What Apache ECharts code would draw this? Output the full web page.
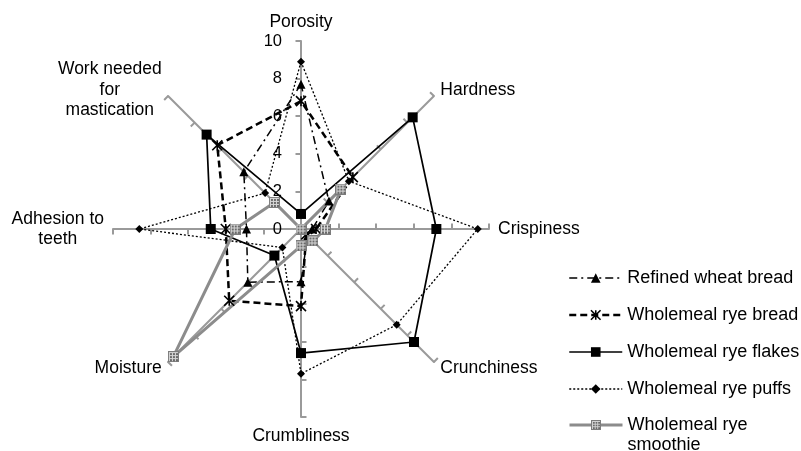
<!DOCTYPE html>
<html>
<head>
<meta charset="utf-8">
<script src="https://cdn.jsdelivr.net/npm/echarts@6/dist/echarts.min.js"></script>
<style>
  html, body { margin: 0; padding: 0; background: #fff; }
  #chart { width: 801px; height: 451px; }
</style>
</head>
<body>
<div id="chart"></div>
<script>
// Sensory attributes, listed clockwise from the top spoke
const attributes = ['Porosity', 'Hardness', 'Crispiness', 'Crunchiness', 'Crumbliness',
  'Moisture', 'Adhesion to\nteeth', 'Work needed\nfor\nmastication'];
const tickLabels = ['0', '2', '4', '6', '8', '10'];
const seriesNames = ['Refined wheat bread', 'Wholemeal rye bread', 'Wholemeal rye flakes',
  'Wholemeal rye puffs', 'Wholemeal rye\nsmoothie'];

// Scores per attribute (same order as attributes)
const refinedWheatBread    = [7.7, 2.1, 0.6, 0.5, 2.8, 4.0, 2.9, 4.3];
const wholemealRyeBread    = [6.8, 3.9, 0.8, 0.4, 4.1, 5.4, 4.0, 6.3];
const wholemealRyeFlakes   = [0.8, 8.4, 7.2, 8.5, 6.6, 2.0, 4.8, 7.1];
const wholemealRyePuffs    = [8.9, 3.6, 9.4, 7.2, 7.7, 1.4, 8.6, 2.7];
const wholemealRyeSmoothie = [0.0, 3.0, 1.3, 0.9, 0.9, 9.6, 3.5, 2.0];
const seriesValues = [refinedWheatBread, wholemealRyeBread, wholemealRyeFlakes,
  wholemealRyePuffs, wholemealRyeSmoothie];

const FONT = '"Liberation Sans", Arial, sans-serif';
const AXIS_GRAY = '#9a9a9a';

// Radar indicators run counter-clockwise, so walk the list in reverse after the first
const order = [0, 7, 6, 5, 4, 3, 2, 1];
const reorder = arr => order.map(i => arr[i]);

function indicators(withLabel) {
  return order.map(i => {
    const ind = { name: attributes[i], min: 0, max: 10 };
    if (withLabel && i === 0) ind.axisLabel = { show: true };
    return ind;
  });
}

// Patterned square marker for the smoothie series
function smoothieMarker() {
  const c = document.createElement('canvas');
  c.width = 11; c.height = 11;
  const g = c.getContext('2d');
  g.fillStyle = '#7c7c7c';
  g.fillRect(0, 0, 11, 11);
  g.fillStyle = '#d8d8d8';
  g.fillRect(1, 1, 9, 9);
  g.fillStyle = '#6a6a6a';
  for (let r = 0; r < 3; r++) {
    for (let k = 0; k < 3; k++) {
      g.fillRect(2 + k * 3, 2 + r * 3, 2, 2);
    }
  }
  return 'image://' + c.toDataURL();
}

const starPath = 'path://M0,0L10,10M10,0L0,10M5,0L5,10';

// Line and marker look of each series
const seriesStyles = [
  { symbol: 'triangle', symbolSize: 9,
    lineStyle: { color: '#000', width: 1.5, type: [8, 4, 2, 4] },
    itemStyle: { color: '#000' } },
  { symbol: starPath, symbolSize: 10,
    lineStyle: { color: '#000', width: 2.5, type: [7, 4] },
    itemStyle: { color: '#000', borderColor: '#000', borderWidth: 1.6 } },
  { symbol: 'rect', symbolSize: 10,
    lineStyle: { color: '#000', width: 1.7, type: 'solid' },
    itemStyle: { color: '#000' } },
  { symbol: 'diamond', symbolSize: 8,
    lineStyle: { color: '#000', width: 1.3, type: [2, 2] },
    itemStyle: { color: '#000' } },
  { symbol: smoothieMarker(), symbolSize: 11,
    lineStyle: { color: '#8c8c8c', width: 3, type: 'solid' },
    itemStyle: { color: '#8c8c8c' } }
];

const baseRadar = {
  center: [301, 229],
  radius: 188,
  startAngle: 90,
  splitNumber: 5,
  shape: 'polygon',
  splitLine: { show: false },
  splitArea: { show: false }
};

// Empty line series carry the legend keys (line + marker icon)
const legendKeySeries = seriesNames.map((n, i) => Object.assign({
  type: 'line', name: n, xAxisIndex: 0, yAxisIndex: 0, data: [], silent: true
}, seriesStyles[i]));

const radarSeries = seriesNames.map((n, i) => Object.assign({
  type: 'radar', radarIndex: 0, name: n,
  data: [{ value: reorder(seriesValues[i]), name: n }]
}, seriesStyles[i]));

function legendItem(i) {
  return {
    name: seriesNames[i],
    lineStyle: { width: seriesStyles[i].lineStyle.width },
    itemStyle: { borderWidth: seriesStyles[i].itemStyle.borderWidth || 0 }
  };
}

const legendCommon = {
  orient: 'vertical',
  left: 563,
  height: 260,
  itemWidth: 53,
  itemHeight: 12,
  itemGap: 17,
  textStyle: { fontSize: 18, lineHeight: 20, color: '#000', fontFamily: FONT }
};

const chart = echarts.init(document.getElementById('chart'), null, { renderer: 'canvas' });

chart.setOption({
  backgroundColor: '#ffffff',
  animation: false,
  textStyle: { fontFamily: FONT },
  grid: { show: false, left: 0, top: 0, width: 1, height: 1 },
  xAxis: { type: 'value', show: false },
  yAxis: { type: 'value', show: false },
  radar: [
    Object.assign({}, baseRadar, {
      indicator: indicators(true),
      nameGap: 9,
      axisName: {
        color: '#000',
        fontSize: 17.5,
        fontFamily: FONT,
        formatter: name => name.split('\n').map(s => '{c|' + s + '}').join('\n'),
        rich: { c: { align: 'center', fontSize: 17.5, lineHeight: 20.5, color: '#000', fontFamily: FONT } }
      },
      axisLine: { show: true, lineStyle: { color: AXIS_GRAY, width: 2 } },
      axisTick: { show: true, length: 5.5, lineStyle: { color: AXIS_GRAY, width: 2 } },
      axisLabel: {
        show: false,
        margin: 19,
        fontSize: 16.5,
        color: '#000',
        fontFamily: FONT,
        formatter: v => tickLabels[Math.round(v / 2)]
      }
    }),
    Object.assign({}, baseRadar, {
      indicator: indicators(false),
      axisName: { show: false },
      axisLine: { show: false },
      axisTick: { show: true, inside: true, length: 5.5, lineStyle: { color: AXIS_GRAY, width: 2 } },
      axisLabel: { show: false }
    })
  ],
  legend: [
    Object.assign({}, legendCommon, {
      top: 263,
      data: [0, 1, 2, 3].map(i => legendItem(i))
    }),
    // Two-line key: a blank leading line keeps its first text line level with the icon
    Object.assign({}, legendCommon, {
      top: 390,
      height: 100,
      formatter: name => '\n' + name,
      data: [legendItem(4)]
    })
  ],
  series: legendKeySeries.concat(radarSeries)
});
</script>
</body>
</html>
